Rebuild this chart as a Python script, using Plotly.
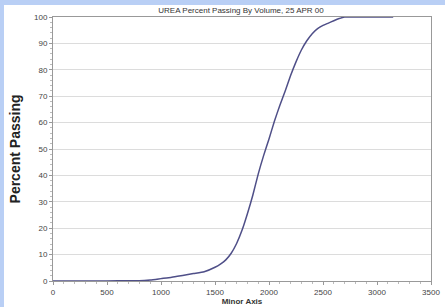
import plotly.graph_objects as go

minor_axis = [0, 200, 400, 600, 800, 900, 1000, 1100, 1200, 1300, 1400, 1500, 1550, 1600,
              1650, 1700, 1750, 1800, 1850, 1900, 1950, 2000, 2050, 2100, 2150, 2200, 2250,
              2300, 2350, 2400, 2450, 2500, 2550, 2600, 2650, 2700, 2800, 3000, 3150]
percent_passing = [0, 0, 0, 0.05, 0.1, 0.4, 0.9, 1.4, 2.1, 2.8, 3.5, 5.2, 6.4, 8.0,
                   10.5, 14.2, 19.2, 25.5, 32.5, 40.5, 47.5, 53.8, 60.5, 66.5, 72.0, 77.8, 83.0,
                   87.5, 91.0, 93.7, 95.6, 96.8, 97.7, 98.6, 99.4, 100, 100, 100, 100]

x_ticks = [0, 500, 1000, 1500, 2000, 2500, 3000, 3500]
y_ticks = [0, 10, 20, 30, 40, 50, 60, 70, 80, 90, 100]

W, H = 445, 307
L, R, T, B = 53, 14, 17, 26
pw, ph = W - L - R, H - T - B

fig = go.Figure()
fig.add_trace(go.Scatter(x=minor_axis, y=percent_passing, mode="lines",
                         line=dict(color="#4f4f88", width=1.5, shape="spline", smoothing=0.5),
                         hoverinfo="skip", showlegend=False))

def px_x(p):
    return (p - L) / pw

def px_y(p):
    return (H - B - p) / ph

blue = "#b9cff5"
fig.add_shape(type="rect", xref="paper", yref="paper", x0=px_x(4), x1=px_x(W + 2),
              y0=px_y(H + 2), y1=px_y(5), fillcolor="white", line_width=0, layer="below")

fig.update_layout(
    width=W, height=H,
    margin=dict(l=L, r=R, t=T, b=B, autoexpand=False),
    paper_bgcolor=blue, plot_bgcolor="white",
    font=dict(family="Liberation Sans, Arial", size=8, color="#333"),
    title=dict(text="UREA Percent Passing By Volume, 25 APR 00", x=px_x(241), xref="paper",
               xanchor="center", y=1 - 10 / H, yanchor="middle",
               font=dict(size=8, color="#333")),
)
fig.update_xaxes(range=[0, 3500], tickvals=x_ticks, ticktext=[str(v) for v in x_ticks],
                 automargin=False,
                 showgrid=False, zeroline=False, showline=True, linecolor="#999",
                 linewidth=1, mirror=True, ticks="outside", ticklen=3, tickcolor="#999",
                 minor=dict(dtick=100, ticks="outside", ticklen=2, tickcolor="#bbb", showgrid=False),
                 tickfont=dict(size=8, color="#444"),
                 title=dict(text="<b>Minor Axis</b>", standoff=0, font=dict(size=8, color="#333")))
fig.update_yaxes(range=[0, 100], tickvals=y_ticks, ticktext=[str(v) for v in y_ticks],
                 automargin=False,
                 showgrid=True, gridcolor="#dcdcdc", gridwidth=1, zeroline=False,
                 showline=True, linecolor="#999", linewidth=1, mirror=True,
                 ticks="outside", ticklen=3, tickcolor="#999",
                 minor=dict(dtick=2, ticks="outside", ticklen=2, tickcolor="#bbb", showgrid=False),
                 tickfont=dict(size=8, color="#444"),
                 title=dict(text="<b>Percent Passing</b>", standoff=10,
                            font=dict(size=14, color="#222")))

fig.write_html("out.html", config={"displayModeBar": False},
               post_script="document.documentElement.style.margin='0';document.body.style.margin='0';"
                           "document.body.style.overflow='hidden';window.scrollTo(0,0);")
